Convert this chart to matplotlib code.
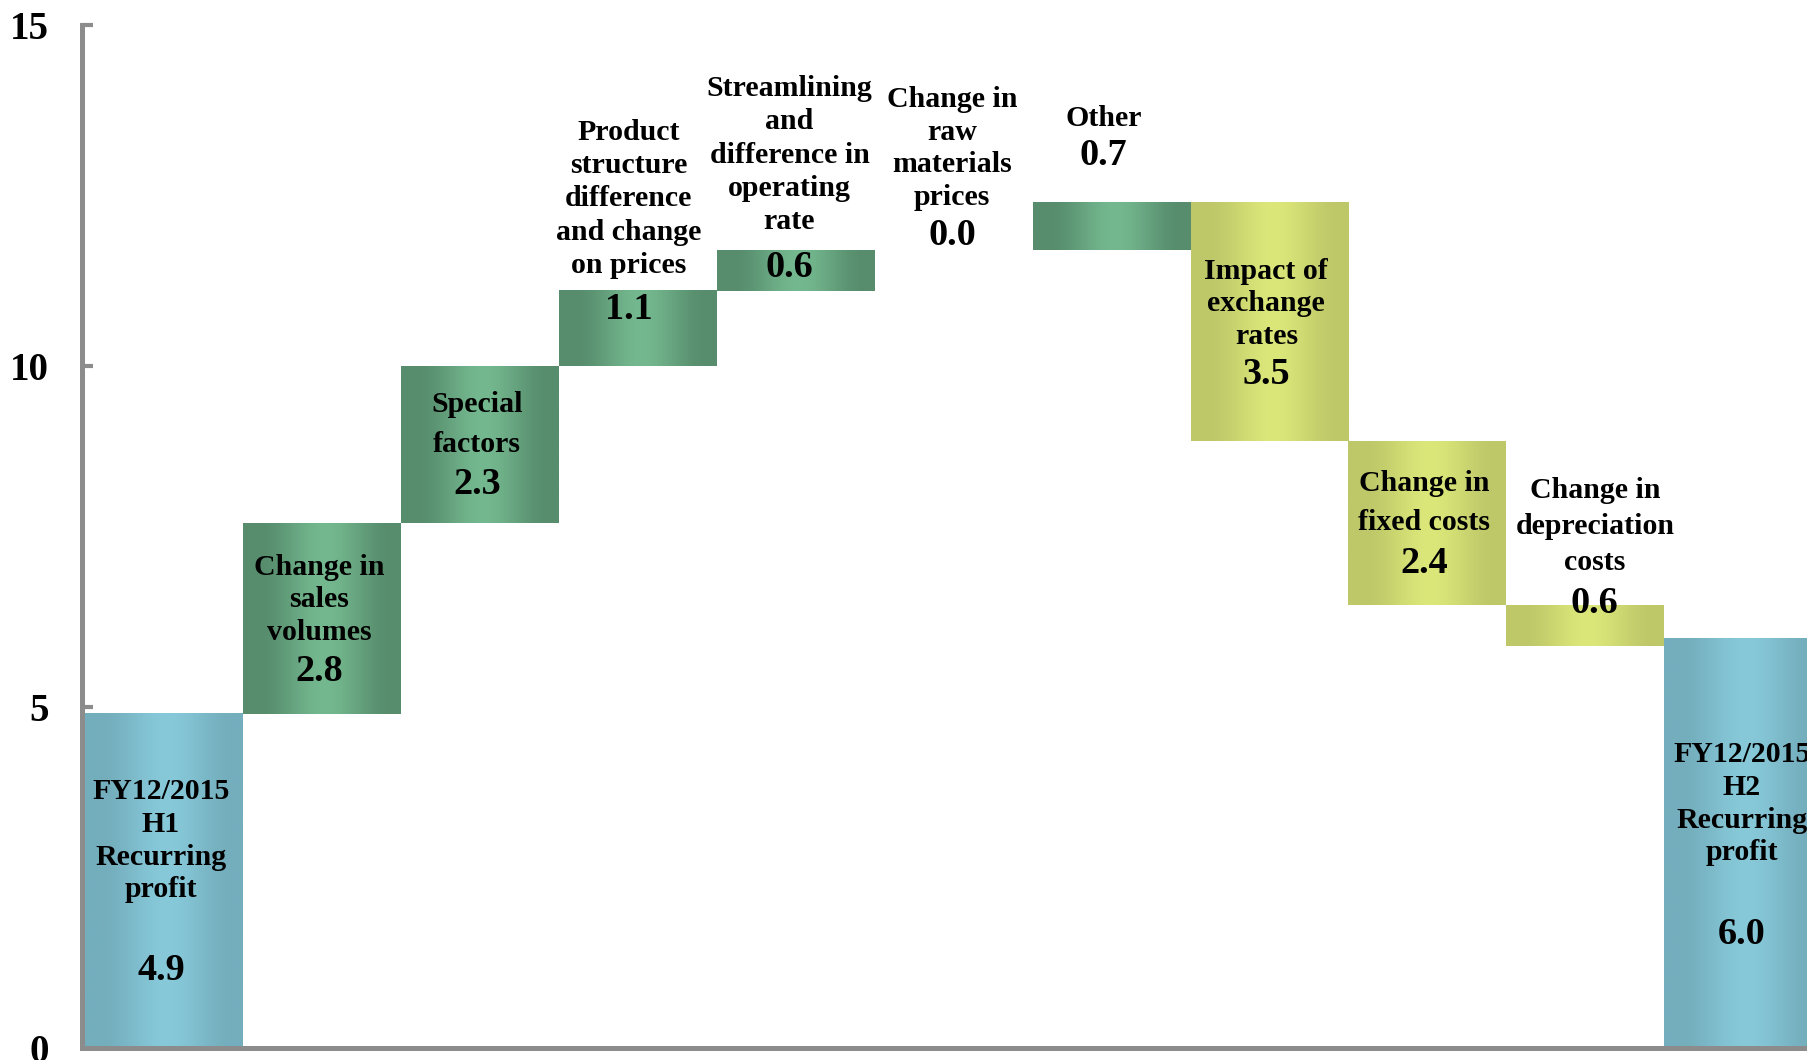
import numpy as np
import matplotlib
matplotlib.use("Agg")
import matplotlib.pyplot as plt
from matplotlib.colors import to_rgb

# waterfall steps (100 million yen)
labels = [
    "FY12/2015\nH1\nRecurring\nprofit",
    "Change in\nsales\nvolumes",
    "Special\nfactors",
    "Product\nstructure\ndifference\nand change\non prices",
    "Streamlining\nand\ndifference in\noperating\nrate",
    "Change in\nraw\nmaterials\nprices",
    "Other",
    "Impact of\nexchange\nrates",
    "Change in\nfixed costs",
    "Change in\ndepreciation\ncosts",
    "FY12/2015\nH2\nRecurring\nprofit",
]
values = [4.9, 2.8, 2.3, 1.1, 0.6, 0.0, 0.7, -3.5, -2.4, -0.6, 6.0]
kinds = ["total", "up", "up", "up", "up", "up", "up", "down", "down", "down", "total"]

# text placement (data units)
label_y = [3.04, 6.57, 9.14, 12.45, 13.09, 13.19, 13.63, 10.91, 7.99, 7.65, 3.58]
value_y = [1.13, 5.52, 8.26, 10.83, 11.45, 11.91, 13.09, 9.88, 7.11, 6.52, 1.66]
label_dx = [-0.02, -0.02, -0.02, -0.06, -0.04, -0.01, -0.05, -0.02, -0.02, 0.06, -0.01]
label_ls = [1.27, 1.27, 1.6, 1.3, 1.3, 1.27, 1.27, 1.27, 1.6, 1.42, 1.27]

palette = {
    "total": ("#74AEBD", "#87C9D9"),
    "up": ("#578D6D", "#74B88F"),
    "down": ("#BEC869", "#DBE779"),
}

plt.rcParams["font.family"] = ["Liberation Serif", "DejaVu Serif"]
plt.rcParams["font.weight"] = "bold"

fig = plt.figure(figsize=(18.08, 10.60), dpi=100)
ax = fig.add_axes([82 / 1808, 12 / 1060, 1 - 82 / 1808, 1023 / 1060])


def shade(dark, light, n=200):
    t = np.linspace(0, 1, n)
    d = np.clip(np.abs(t - 0.52) / 0.42, 0, 1)
    d = d * d * (3 - 2 * d)
    a = np.array(to_rgb(dark))
    b = np.array(to_rgb(light))
    return (b[None, :] + (a - b)[None, :] * d[:, None])[None, :, :]


level = 0.0
for i, (v, k) in enumerate(zip(values, kinds)):
    if k == "total":
        lo, hi = 0.0, v
        level = v
    else:
        lo, hi = sorted([level, level + v])
        level = level + v
    if hi - lo > 0:
        ax.imshow(shade(*palette[k]), extent=[i - 0.5, i + 0.5, lo, hi],
                  aspect="auto", interpolation="bilinear", zorder=2)
    ax.text(i + label_dx[i], label_y[i], labels[i], ha="center", va="center",
            fontsize=21.5, fontweight="bold", linespacing=label_ls[i], zorder=3)
    ax.text(i + label_dx[i], value_y[i], f"{abs(v):.1f}", ha="center", va="center",
            fontsize=27.5, fontweight="bold", zorder=3)

ax.set_xlim(-0.52, 10.41)
ax.set_ylim(0, 15)
ax.set_yticks([0, 5, 10, 15])
ax.set_xticks([])
ax.tick_params(axis="y", direction="in", length=8, width=3, color="#8C8C8C",
               labelsize=28, pad=24)
for lab in ax.get_yticklabels():
    lab.set_fontweight("bold")
for side in ["top", "right"]:
    ax.spines[side].set_visible(False)
for side in ["left", "bottom"]:
    ax.spines[side].set_color("#8C8C8C")
    ax.spines[side].set_linewidth(3.6)
ax.patch.set_visible(False)

fig.savefig("out.png", dpi=100)
